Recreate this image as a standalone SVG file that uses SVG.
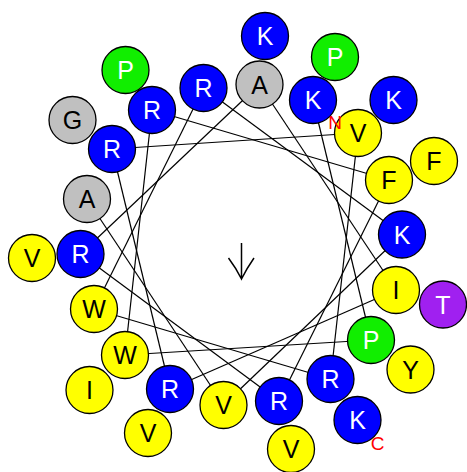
<svg xmlns="http://www.w3.org/2000/svg" width="467" height="472" viewBox="0 0 467 472">
<style>
.c{stroke:#000;stroke-width:1.3}
.b{fill:#0000ff}.y{fill:#ffff00}.g{fill:#c0c0c0}.p{fill:#11ee00}.v{fill:#a020f0}
text{font-family:"Liberation Sans",Arial,sans-serif;font-size:25px;text-anchor:middle}
.w{fill:#fff}.k{fill:#000}
.lab{fill:#ff0000;font-size:19px}
#links line{stroke:#000;stroke-width:1.2}
</style>
<rect width="467" height="472" fill="#fff"/>
<g id="links">
<line x1="313" y1="100" x2="371" y2="340"/>
<line x1="371" y1="340" x2="125" y2="355"/>
<line x1="125" y1="355" x2="152" y2="110"/>
<line x1="152" y1="110" x2="389" y2="180"/>
<line x1="389" y1="180" x2="279" y2="401"/>
<line x1="279" y1="401" x2="80.5" y2="254"/>
<line x1="80.5" y1="254" x2="259.5" y2="84.5"/>
<line x1="259.5" y1="84.5" x2="396" y2="290"/>
<line x1="396" y1="290" x2="170" y2="389"/>
<line x1="170" y1="389" x2="112" y2="149"/>
<line x1="112" y1="149" x2="358" y2="133"/>
<line x1="358" y1="133" x2="330.5" y2="379"/>
<line x1="330.5" y1="379" x2="94" y2="309"/>
<line x1="94" y1="309" x2="203.5" y2="88"/>
<line x1="203.5" y1="88" x2="402" y2="234.5"/>
<line x1="402" y1="234.5" x2="223.5" y2="405"/>
<line x1="223.5" y1="405" x2="87" y2="199"/>
</g>
<g id="arrow" fill="none" stroke="#000" stroke-width="1.5">
<path d="M241.5 243 V279 M228.5 258 Q236 268 241.5 279 Q247 268 254 258"/>
</g>
<g id="r19"><circle class="c p" cx="335" cy="57" r="23.5"/><text class="w" x="335" y="66">P</text></g>
<g id="r20"><circle class="c y" cx="410.5" cy="369.5" r="23.5"/><text class="k" x="410.5" y="378.5">Y</text></g>
<g id="r21"><circle class="c y" cx="89.5" cy="390" r="23.5"/><text class="k" x="89.5" y="399">I</text></g>
<g id="r22"><circle class="c p" cx="125.5" cy="70" r="23.5"/><text class="w" x="125.5" y="79">P</text></g>
<g id="r23"><circle class="c y" cx="434" cy="161" r="23.5"/><text class="k" x="434" y="170">F</text></g>
<g id="r24"><circle class="c y" cx="291" cy="449" r="23.5"/><text class="k" x="291" y="458">V</text></g>
<g id="r25"><circle class="c y" cx="32" cy="258" r="23.5"/><text class="k" x="32" y="267">V</text></g>
<g id="r26"><circle class="c b" cx="265" cy="36" r="23.5"/><text class="w" x="265" y="45">K</text></g>
<g id="r27"><circle class="c v" cx="443" cy="304.5" r="23.5"/><text class="w" x="443" y="313.5">T</text></g>
<g id="r28"><circle class="c y" cx="148" cy="433" r="23.5"/><text class="k" x="148" y="442">V</text></g>
<g id="r29"><circle class="c g" cx="72.5" cy="120" r="23.5"/><text class="k" x="72.5" y="129">G</text></g>
<g id="r30"><circle class="c b" cx="393.5" cy="100" r="23.5"/><text class="w" x="393.5" y="109">K</text></g>
<g id="r31"><circle class="c b" cx="357.5" cy="420" r="23.5"/><text class="w" x="357.5" y="429">K</text></g>
<g id="r1"><circle class="c b" cx="313" cy="100" r="23.5"/><text class="w" x="313" y="109">K</text></g>
<g id="r2"><circle class="c p" cx="371" cy="340" r="23.5"/><text class="w" x="371" y="349">P</text></g>
<g id="r3"><circle class="c y" cx="125" cy="355" r="23.5"/><text class="k" x="125" y="364">W</text></g>
<g id="r4"><circle class="c b" cx="152" cy="110" r="23.5"/><text class="w" x="152" y="119">R</text></g>
<g id="r5"><circle class="c y" cx="389" cy="180" r="23.5"/><text class="k" x="389" y="189">F</text></g>
<g id="r6"><circle class="c b" cx="279" cy="401" r="23.5"/><text class="w" x="279" y="410">R</text></g>
<g id="r7"><circle class="c b" cx="80.5" cy="254" r="23.5"/><text class="w" x="80.5" y="263">R</text></g>
<g id="r8"><circle class="c g" cx="259.5" cy="84.5" r="23.5"/><text class="k" x="259.5" y="93.5">A</text></g>
<g id="r9"><circle class="c y" cx="396" cy="290" r="23.5"/><text class="k" x="396" y="299">I</text></g>
<g id="r10"><circle class="c b" cx="170" cy="389" r="23.5"/><text class="w" x="170" y="398">R</text></g>
<g id="r11"><circle class="c b" cx="112" cy="149" r="23.5"/><text class="w" x="112" y="158">R</text></g>
<g id="r12"><circle class="c y" cx="358" cy="133" r="23.5"/><text class="k" x="358" y="142">V</text></g>
<g id="r13"><circle class="c b" cx="330.5" cy="379" r="23.5"/><text class="w" x="330.5" y="388">R</text></g>
<g id="r14"><circle class="c y" cx="94" cy="309" r="23.5"/><text class="k" x="94" y="318">W</text></g>
<g id="r15"><circle class="c b" cx="203.5" cy="88" r="23.5"/><text class="w" x="203.5" y="97">R</text></g>
<g id="r16"><circle class="c b" cx="402" cy="234.5" r="23.5"/><text class="w" x="402" y="243.5">K</text></g>
<g id="r17"><circle class="c y" cx="223.5" cy="405" r="23.5"/><text class="k" x="223.5" y="414">V</text></g>
<g id="r18"><circle class="c g" cx="87" cy="199" r="23.5"/><text class="k" x="87" y="208">A</text></g>
<g id="labels">
<text class="lab" x="335" y="129">N</text>
<text class="lab" x="377.5" y="450">C</text>
</g>
</svg>
